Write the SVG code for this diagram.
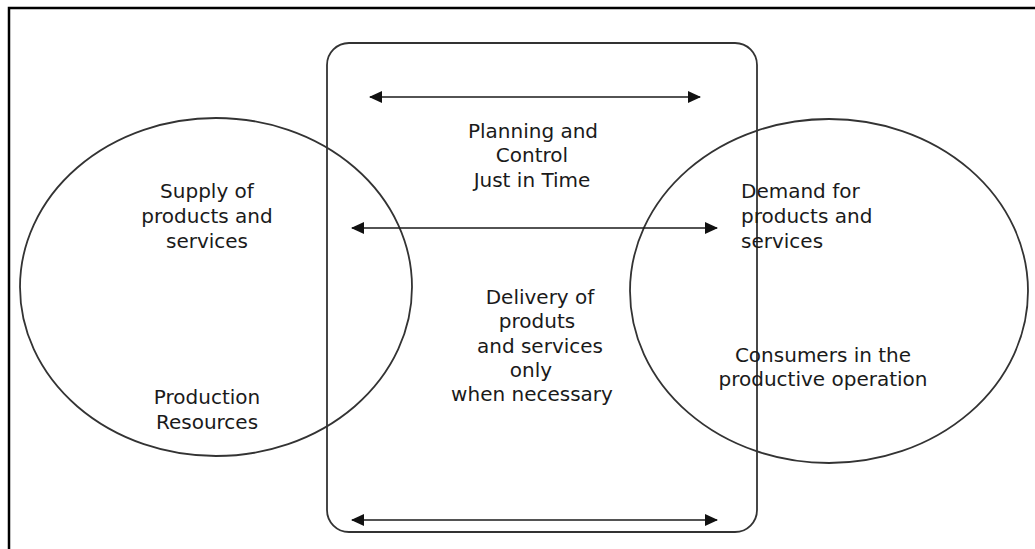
<svg xmlns="http://www.w3.org/2000/svg" width="1035" height="549" viewBox="0 0 1035 549">
<style>
.t{font-family:"DejaVu Sans","Open Sans",sans-serif;font-size:20px;fill:#1a1a1a}
.c{text-anchor:middle}
.shape{fill:none;stroke:#333;stroke-width:1.8}
.arr{stroke:#1a1a1a;stroke-width:1.6;fill:none}
</style>
<defs>
<marker id="ah" markerWidth="13" markerHeight="13" refX="12" refY="6.5" orient="auto-start-reverse" markerUnits="userSpaceOnUse">
<path d="M0,0.5 L13,6.5 L0,12.5 z" fill="#111"/>
</marker>
</defs>
<rect width="1035" height="549" fill="#fff"/>
<rect x="9" y="8" width="1040" height="560" fill="none" stroke="#000" stroke-width="2.5"/>
<g id="center-box">
<rect class="shape" x="327" y="43" width="430" height="489" rx="22" ry="22"/>
</g>
<g id="supply">
<ellipse class="shape" cx="216" cy="287" rx="196" ry="169"/>
</g>
<g id="demand">
<ellipse class="shape" cx="829" cy="291" rx="199" ry="172"/>
</g>
<g id="connectors">
<line class="arr" x1="370" y1="97" x2="700" y2="97" marker-start="url(#ah)" marker-end="url(#ah)"/>
<line class="arr" x1="352" y1="228" x2="717" y2="228" stroke-width="2.2" marker-start="url(#ah)" marker-end="url(#ah)"/>
<line class="arr" x1="352" y1="520" x2="717" y2="520" stroke-width="2.2" marker-start="url(#ah)" marker-end="url(#ah)"/>
</g>
<g id="labels-center">
<text class="t c" x="533" y="138">Planning and</text>
<text class="t c" x="532" y="162">Control</text>
<text class="t c" x="532" y="187">Just in Time</text>
<text class="t c" x="540" y="304">Delivery of</text>
<text class="t c" x="537" y="328">produts</text>
<text class="t c" x="540" y="353">and services</text>
<text class="t c" x="531" y="377">only</text>
<text class="t c" x="532" y="401">when necessary</text>
</g>
<g id="labels-supply">
<text class="t c" x="207" y="198">Supply of</text>
<text class="t c" x="207" y="223">products and</text>
<text class="t c" x="207" y="248">services</text>
<text class="t c" x="207" y="404">Production</text>
<text class="t c" x="207" y="429">Resources</text>
</g>
<g id="labels-demand">
<text class="t" x="741" y="198">Demand for</text>
<text class="t" x="741" y="223">products and</text>
<text class="t" x="741" y="248">services</text>
<text class="t c" x="823" y="362">Consumers in the</text>
<text class="t c" x="823" y="386">productive operation</text>
</g>
</svg>
